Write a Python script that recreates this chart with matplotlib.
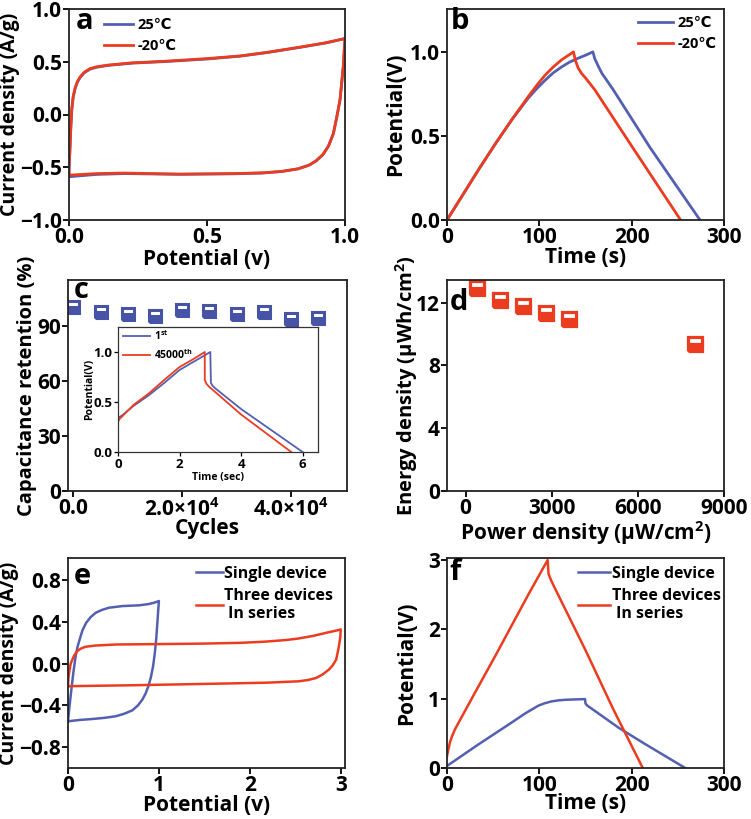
import matplotlib
matplotlib.use("Agg")
import matplotlib.pyplot as plt

plt.rcParams['font.family'] = ['Open Sans', 'DejaVu Sans']
plt.rcParams['font.weight'] = 'bold'
plt.rcParams['axes.labelweight'] = 'bold'
plt.rcParams['mathtext.fontset'] = 'custom'
plt.rcParams['mathtext.rm'] = 'Open Sans:bold'
plt.rcParams['mathtext.it'] = 'Open Sans:bold'
plt.rcParams['mathtext.bf'] = 'Open Sans:bold'
plt.rcParams['mathtext.default'] = 'rm'

BLUE = '#5360b2'
RED = '#ec3c1f'
MBLUE = '#4753a6'

# ---- (a) CV at two temperatures (forward branch then reverse branch)
a_25_v = [0, 0, 0.003, 0.006, 0.01, 0.015, 0.022, 0.03, 0.04, 0.055, 0.076, 0.1, 0.14,
          0.23, 0.35, 0.5, 0.62, 0.72, 0.84, 0.93, 1.0,
          0.997, 0.994, 0.988, 0.982, 0.972, 0.958, 0.94, 0.92, 0.895, 0.87, 0.83,
          0.77, 0.7, 0.6, 0.4, 0.2, 0.1, 0]
a_25_i = [-0.59, -0.53, -0.36, -0.16, 0.04, 0.16, 0.245, 0.305, 0.35, 0.395, 0.43, 0.448, 0.465,
          0.487, 0.502, 0.526, 0.553, 0.588, 0.638, 0.678, 0.72,
          0.6, 0.46, 0.3, 0.14, 0.0, -0.18, -0.3, -0.38, -0.44, -0.48, -0.515,
          -0.54, -0.555, -0.562, -0.567, -0.56, -0.568, -0.59]
a_20_v = [0, 0, 0.003, 0.006, 0.01, 0.015, 0.022, 0.03, 0.04, 0.055, 0.076, 0.1, 0.14,
          0.23, 0.35, 0.5, 0.62, 0.72, 0.84, 0.93, 1.0,
          0.997, 0.994, 0.988, 0.982, 0.972, 0.958, 0.94, 0.92, 0.895, 0.87, 0.83,
          0.77, 0.7, 0.6, 0.4, 0.2, 0.1, 0]
a_20_i = [-0.575, -0.51, -0.35, -0.15, 0.05, 0.17, 0.25, 0.31, 0.355, 0.4, 0.435, 0.452, 0.468,
          0.49, 0.505, 0.53, 0.555, 0.59, 0.64, 0.68, 0.72,
          0.6, 0.46, 0.3, 0.14, 0.0, -0.18, -0.3, -0.38, -0.44, -0.48, -0.515,
          -0.54, -0.553, -0.56, -0.565, -0.555, -0.56, -0.575]

# ---- (b) GCD at two temperatures
b_25_t = [0, 16, 34, 52, 70, 88, 97, 106, 115, 124, 133, 142, 150, 158,
          160, 164, 168, 171.5, 180, 220, 274]
b_25_v = [0, 0.14, 0.298, 0.45, 0.595, 0.725, 0.78, 0.83, 0.875, 0.91, 0.94, 0.962, 0.98, 1.0,
          0.96, 0.913, 0.87, 0.843, 0.775, 0.43, 0]
b_20_t = [0, 16, 34, 52, 70, 88, 97, 106, 115, 124, 131, 137,
          139, 142, 146, 150, 160, 200, 253]
b_20_v = [0, 0.14, 0.298, 0.45, 0.595, 0.734, 0.8, 0.86, 0.91, 0.952, 0.978, 1.0,
          0.95, 0.905, 0.87, 0.845, 0.775, 0.44, 0]

# ---- (c) cycling stability + inset GCD
c_cycles = [0, 5000, 10000, 15000, 20000, 25000, 30000, 35000, 40000, 45000]
c_retention = [100.2, 97.5, 96.5, 95.3, 98.7, 98.0, 96.2, 97.3, 94.0, 94.5]
ins_1_t = [0, 0, 0.05, 0.15, 0.5, 1.0, 1.5, 2.0, 2.5, 3.0, 3.02, 3.08, 3.16, 4.0, 6.0]
ins_1_v = [0, 0.33, 0.35, 0.37, 0.46, 0.567, 0.69, 0.82, 0.91, 1.0, 0.69, 0.66, 0.637, 0.43, 0]
ins_45_t = [0, 0, 0.05, 0.15, 0.5, 1.0, 1.5, 2.0, 2.4, 2.82, 2.82, 2.88, 2.96, 4.0, 5.63]
ins_45_v = [0, 0.30, 0.33, 0.36, 0.47, 0.585, 0.72, 0.85, 0.92, 1.0, 0.72, 0.68, 0.653, 0.375, 0]

# ---- (d) Ragone plot
d_power = [400, 1200, 2000, 2800, 3600, 8000]
d_energy = [12.97, 12.2, 11.78, 11.36, 10.97, 9.36]

# ---- (e) CV single device vs three in series
e_single_v = [0, 0.015, 0.037, 0.06, 0.084, 0.105, 0.128, 0.16, 0.2, 0.25, 0.305, 0.37, 0.45,
              0.6, 0.78, 0.88, 0.947, 1.0,
              0.99, 0.983, 0.97, 0.955, 0.936, 0.912, 0.884, 0.852, 0.818, 0.77, 0.708,
              0.62, 0.525, 0.4, 0.268, 0.13, 0]
e_single_i = [-0.553, -0.42, -0.25, -0.08, 0.07, 0.16, 0.23, 0.32, 0.39, 0.445, 0.486, 0.512, 0.534,
              0.55, 0.557, 0.568, 0.582, 0.598,
              0.48, 0.39, 0.23, 0.1, -0.026, -0.13, -0.218, -0.29, -0.345, -0.4, -0.448,
              -0.48, -0.505, -0.52, -0.531, -0.54, -0.553]
e_three_v = [0, 0.005, 0.018, 0.03, 0.048, 0.07, 0.1, 0.14, 0.19, 0.3, 0.525, 1.0, 1.44,
             1.9, 2.18, 2.4, 2.54, 2.7, 2.84, 2.95, 3.0,
             2.995, 2.98, 2.965, 2.95, 2.91, 2.87, 2.8, 2.73, 2.64, 2.54, 2.2, 1.81,
             1.2, 0.708, 0.3, 0]
e_three_i = [-0.217, -0.13, -0.058, 0.0, 0.038, 0.08, 0.118, 0.142, 0.16, 0.172, 0.182, 0.186, 0.19,
             0.198, 0.21, 0.225, 0.24, 0.265, 0.294, 0.315, 0.326,
             0.25, 0.166, 0.1, 0.038, -0.02, -0.058, -0.105, -0.138, -0.158, -0.17, -0.183, -0.19,
             -0.2, -0.208, -0.213, -0.217]

# ---- (f) GCD single device vs three in series
f_single_t = [0, 34, 70, 85, 99, 106, 113, 120, 128, 140, 149.5,
              150, 152, 160, 186, 214, 258]
f_single_v = [0.03, 0.34, 0.656, 0.79, 0.9, 0.935, 0.96, 0.975, 0.984, 0.99, 0.994,
              0.93, 0.9, 0.825, 0.58, 0.35, 0]
f_three_t = [0, 1.5, 3.2, 5.5, 8.7, 30, 52, 88, 109, 109.5, 110, 113, 117, 150, 180, 212]
f_three_v = [0.17, 0.27, 0.37, 0.46, 0.56, 1.08, 1.61, 2.5, 3.0, 2.9, 2.8, 2.7, 2.59, 1.7, 0.85, 0]


def style(ax, fs=15):
    for s in ax.spines.values():
        s.set_linewidth(1.3)
        s.set_color('#222222')
    ax.tick_params(direction='out', length=4, width=1.3, labelsize=fs, pad=1,
                   top=False, right=False)


def letter(ax, s, x, y):
    ax.text(x, y, s, transform=ax.transAxes, fontsize=21, fontweight='bold',
            va='top', ha='left')


fig = plt.figure(figsize=(7.51, 8.19), dpi=100)

W, H = 751, 819
def box(l, r, t, b):
    return [l / W, (H - b) / H, (r - l) / W, (b - t) / H]

# (a)
ax = fig.add_axes(box(69, 345, 9, 220))
ax.plot(a_25_v, a_25_i, color=BLUE, lw=2, label='25℃')
ax.plot(a_20_v, a_20_i, color=RED, lw=2, label='-20℃')
ax.set_xlim(0, 1)
ax.set_ylim(-1, 1)
ax.set_xticks([0, 0.5, 1.0])
ax.set_yticks([-1.0, -0.5, 0.0, 0.5, 1.0])
ax.set_xlabel('Potential (v)', fontsize=15, labelpad=1)
ax.set_ylabel('Current density (A/g)', fontsize=14, labelpad=0)
style(ax)
letter(ax, 'a', 0.025, 1.01)
ax.legend(loc='upper left', bbox_to_anchor=(0.08, 1.02), frameon=False, fontsize=10.5,
          handlelength=2.0, handletextpad=0.3, labelspacing=0.5)

# (b)
ax = fig.add_axes(box(447, 724, 9, 220))
ax.plot(b_25_t, b_25_v, color=BLUE, lw=2, label='25℃')
ax.plot(b_20_t, b_20_v, color=RED, lw=2, label='-20℃')
ax.set_xlim(0, 300)
ax.set_ylim(0, 1.255)
ax.set_xticks([0, 100, 200, 300])
ax.set_yticks([0.0, 0.5, 1.0])
ax.set_xlabel('Time (s)', fontsize=15, labelpad=-1)
ax.set_ylabel('Potential(V)', fontsize=15, labelpad=3)
style(ax)
letter(ax, 'b', 0.015, 1.01)
ax.legend(loc='upper right', bbox_to_anchor=(1.02, 1.03), frameon=False, fontsize=10.5,
          handlelength=2.4, handletextpad=0.3, labelspacing=0.5)

# (c)
ax = fig.add_axes(box(68, 347, 280, 491))
ax.plot(c_cycles, c_retention, ls='none', marker='s', ms=9, mew=2.2,
        color=MBLUE, mec=MBLUE, fillstyle='bottom', markerfacecoloralt='white')
ax.set_xlim(-1000, 50300)
ax.set_ylim(0, 115)
ax.set_xticks([0, 20000, 40000])
ax.set_xticklabels(['0.0', r'2.0×10$^{4}$', r'4.0×10$^{4}$'])
ax.set_yticks([0, 30, 60, 90])
ax.set_xlabel('Cycles', fontsize=15, labelpad=-2)
ax.set_ylabel('Capacitance retention (%)', fontsize=14.5, labelpad=0)
style(ax)
letter(ax, 'c', 0.02, 1.02)

ins = fig.add_axes(box(118, 318, 327, 452))
ins.plot(ins_1_t, ins_1_v, color=BLUE, lw=1.3, label='1$^{st}$')
ins.plot(ins_45_t, ins_45_v, color=RED, lw=1.3, label='45000$^{th}$')
ins.set_xlim(0, 6.5)
ins.set_ylim(0, 1.25)
ins.set_xticks([0, 2, 4, 6])
ins.set_yticks([0.0, 0.5, 1.0])
ins.set_xlabel('Time (sec)', fontsize=7.5, labelpad=1)
ins.set_ylabel('Potential(V)', fontsize=7.5, labelpad=-1)
for s in ins.spines.values():
    s.set_linewidth(0.9)
    s.set_color('#333333')
ins.tick_params(direction='out', length=3, width=0.9, labelsize=9.5, pad=1,
                top=False, right=False)
ins.legend(loc='upper left', bbox_to_anchor=(-0.02, 1.06), frameon=False, fontsize=7.5,
           handlelength=2.6, handletextpad=0.3, labelspacing=0.5)

# (d)
ax = fig.add_axes(box(447, 724, 280, 491))
ax.plot(d_power, d_energy, ls='none', marker='s', ms=10, mew=2.3,
        color=RED, mec=RED, fillstyle='bottom', markerfacecoloralt='white')
ax.set_xlim(-650, 9000)
ax.set_ylim(0, 13.45)
ax.set_xticks([0, 3000, 6000, 9000])
ax.set_yticks([0, 4, 8, 12])
ax.set_xlabel('Power density (μW/cm$^{2}$)', fontsize=15, labelpad=0)
ax.set_ylabel('Energy density (μWh/cm$^{2}$)', fontsize=14.5, labelpad=-3)
style(ax)
letter(ax, 'd', 0.01, 0.96)

# (e)
ax = fig.add_axes(box(68, 345, 558, 768))
ax.plot(e_single_v, e_single_i, color=BLUE, lw=1.8, label='Single device')
ax.plot(e_three_v, e_three_i, color=RED, lw=1.8, label='Three devices\n In series')
ax.set_xlim(0, 3.047)
ax.set_ylim(-1.0, 1.01)
ax.set_xticks([0, 1, 2, 3])
ax.set_yticks([-0.8, -0.4, 0.0, 0.4, 0.8])
ax.set_xlabel('Potential (v)', fontsize=15, labelpad=-1)
ax.set_ylabel('Current density (A/g)', fontsize=14, labelpad=0)
style(ax)
letter(ax, 'e', 0.02, 0.98)
ax.legend(loc='upper right', bbox_to_anchor=(1.01, 1.03), frameon=False, fontsize=11.5,
          handlelength=1.7, handletextpad=0.1, labelspacing=0.35)

# (f)
ax = fig.add_axes(box(447, 724, 558, 768))
ax.plot(f_single_t, f_single_v, color=BLUE, lw=1.8, label='Single device')
ax.plot(f_three_t, f_three_v, color=RED, lw=1.8, label='Three devices\n In series')
ax.set_xlim(0, 300)
ax.set_ylim(0, 3.03)
ax.set_xticks([0, 100, 200, 300])
ax.set_yticks([0, 1, 2, 3])
ax.set_xlabel('Time (s)', fontsize=15, labelpad=-2)
ax.set_ylabel('Potential(V)', fontsize=15, labelpad=8)
style(ax)
letter(ax, 'f', 0.01, 1.0)
ax.legend(loc='upper right', bbox_to_anchor=(1.04, 1.03), frameon=False, fontsize=11.5,
          handlelength=2.0, handletextpad=0.1, labelspacing=0.35)

fig.savefig('out.png', dpi=100)
